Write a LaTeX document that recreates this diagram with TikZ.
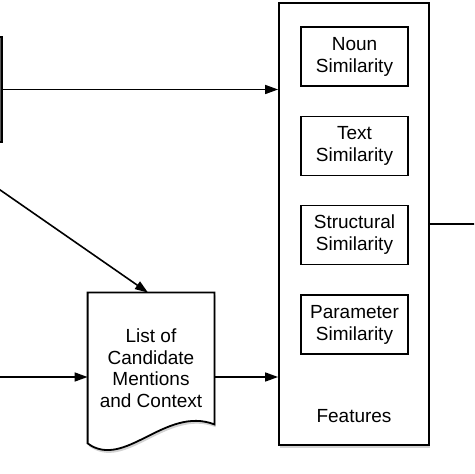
\documentclass[tikz,border=0pt]{standalone}
\usepackage{fontspec}
\setmainfont{Liberation Sans}
\usetikzlibrary{arrows.meta,shadows,backgrounds}

\tikzset{
  box/.style={draw, line width=0.9pt, fill=white, align=center, inner sep=0pt},
  simbox/.style={box, minimum width=53.5pt, minimum height=29.5pt},
  arr/.style={line width=0.8pt, -{Triangle[length=6.5pt,width=4.5pt]}},
  shade/.style={drop shadow={shadow xshift=0.6pt, shadow yshift=-1.4pt, opacity=0.35}}
}

\begin{document}
\begin{tikzpicture}[x=0.5pt, y=-0.5pt, font=\fontsize{9.5}{11}\selectfont]
\useasboundingbox (0,0) rectangle (474,474);
\clip (0,0) rectangle (474,474);

% features
\node[box, shade, minimum width=75pt, minimum height=221pt] (feat) at (354,224) {};
\node[simbox] (noun) at (354.5,56.5) {Noun\\Similarity};
\node[simbox] (text) at (354.5,146) {Text\\Similarity};
\node[simbox] (struct) at (354.5,235) {Structural\\Similarity};
\node[simbox] (param) at (354.5,324.5) {Parameter\\Similarity};
\node (featlbl) at (354,416) {Features};

% source box, cut off at the left edge
\node[box, fill=black!65, minimum width=32pt, minimum height=52.5pt] (src) at (-30,89.5) {};

% candidate list (document shape)
\node[align=center, minimum width=63pt, minimum height=75pt, inner sep=0pt,
      font=\fontsize{9.5}{10.75}\selectfont] (doc) at (151,368)
  {List of\\Candidate\\Mentions\\and Context};
\begin{scope}[on background layer]
\filldraw[fill=white, line width=0.9pt, shade] (doc.north west) -- (doc.north east)
  -- ([yshift=9.5pt]doc.south east) .. controls +(-49,-19) and +(37,27) .. (doc.south west) -- cycle;
\end{scope}

\coordinate (diagin) at (-20,176);
\coordinate (leftin) at (-10,377);
\coordinate (out) at (484,224);

\draw[arr] (src.east) -- (src.east -| feat.west);
\draw[arr] (diagin) -- ([xshift=-1.5pt]doc.north);
\draw[arr] (leftin) -- (leftin -| doc.west);
\draw[arr] (doc.east |- leftin) -- (leftin -| feat.west);
\draw[line width=0.8pt] (feat.east) -- (out);
\end{tikzpicture}
\end{document}
